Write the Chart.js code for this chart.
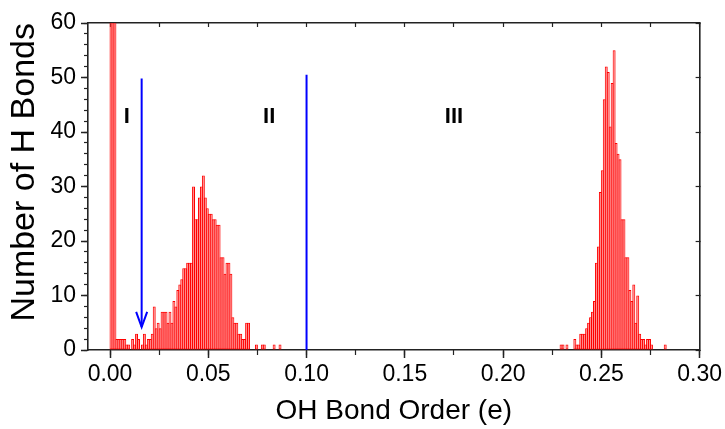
<!DOCTYPE html>
<html>
<head>
<meta charset="utf-8">
<script src="https://cdn.jsdelivr.net/npm/chart.js@4.4.1/dist/chart.umd.min.js"></script>
<style>
    html, body { margin: 0; padding: 0; background: #ffffff; }
    #wrap { width: 725px; height: 429px; position: relative; }
</style>
</head>
<body>
<div id="wrap"><canvas id="chart"></canvas></div>
<script>
// histogram bins of 0.001 e
const binWidth = 0.001;

// bins starting at 0.000 (first three bins run off the top of the axis)
const lowStartBin = 0;
const lowCounts = [
    120, 120, 120, 2, 2, 2, 2, 2, 1, 1,
    0, 2, 1, 3, 2, 0, 1, 3, 1, 2,
    2, 3, 8, 4, 5, 4, 7, 7, 7, 5,
    7, 5, 9, 8, 11, 12, 13, 15, 15, 16,
    16, 16, 30, 24, 24, 28, 30, 32, 28, 26,
    25, 25, 24, 24, 23, 23, 17, 17, 14, 16,
    16, 14, 6, 5, 5, 3, 3, 2, 2, 5,
    5, 0, 0, 0, 1, 0, 0, 1, 1, 0,
    0, 0, 0, 1, 0, 0, 1
];

// bins starting at 0.228
const highStartBin = 228;
const highCounts = [
    0, 1, 1, 0, 1, 0, 0, 0, 2, 1,
    1, 3, 3, 3, 4, 5, 6, 7, 9, 16,
    19, 29, 33, 46, 52, 51, 41, 49, 55, 38,
    36, 35, 24, 24, 17, 17, 11, 9, 12, 5,
    10, 3, 2, 2, 1, 2, 2, 1, 0, 0,
    0, 0, 0, 0, 1
];

const xMajorTicks = [0, 0.05, 0.10, 0.15, 0.20, 0.25, 0.30];
const xMinorTicks = [0, 0.025, 0.05, 0.075, 0.10, 0.125, 0.15, 0.175, 0.20, 0.225, 0.25, 0.275, 0.30];
const yMajorTicks = [0, 10, 20, 30, 40, 50, 60];
const yMinorTicks = [0, 2, 4, 6, 8, 10, 12, 14, 16, 18, 20, 22, 24, 26, 28, 30, 32, 34, 36, 38, 40, 42, 44, 46, 48, 50, 52, 54, 56, 58, 60];

// region markers
const regionLabels = ["I", "II", "III"];
const regionLabelX = [0.0085, 0.081, 0.175];
const regionLabelY = 42.7;
const dividerX = 0.10;
const dividerTop = 50.5;
const arrowX = 0.0161;
const arrowTop = 49.8;
const arrowTip = 4.2;
const arrowHalfWidth = 0.0028;
const arrowHeadHeight = 2.8;

const xMin = -0.0112;
const xMax = 0.30;

const tickFont = { family: "'Liberation Sans Narrow', 'Liberation Sans', Arial, sans-serif", size: 23 };
const titleFamily = "'Liberation Sans', Arial, sans-serif";
const frameColor = "#222222";

function toBars(startBin, counts) {
    return counts
        .map((count, i) => ({ x: (startBin + i + 0.5) * binWidth, y: count }))
        .filter(point => point.y > 0);
}

function fixedTicks(values) {
    return scale => {
        scale.ticks = values.map(value => ({ value }));
    };
}

const regionLabelPlugin = {
    id: "regionLabels",
    afterDatasetsDraw(chart) {
        const { ctx, scales } = chart;
        ctx.save();
        ctx.fillStyle = "#000000";
        ctx.font = "bold 22px 'Liberation Sans', Arial, sans-serif";
        ctx.textAlign = "center";
        ctx.textBaseline = "middle";
        regionLabels.forEach((text, i) => {
            ctx.fillText(text, scales.x.getPixelForValue(regionLabelX[i]), scales.y.getPixelForValue(regionLabelY));
        });
        ctx.restore();
    }
};

const hiddenAxis = {
    ticks: { display: false },
    border: { display: false },
    title: { display: false }
};

new Chart(document.getElementById("chart"), {
    type: "bar",
    data: {
        datasets: [
            {
                type: "line",
                data: [{ x: dividerX, y: 0 }, { x: dividerX, y: dividerTop }],
                borderColor: "#0000ff",
                borderWidth: 2,
                pointRadius: 0,
                order: 0
            },
            {
                type: "line",
                data: [{ x: arrowX, y: arrowTop }, { x: arrowX, y: arrowTip }],
                borderColor: "#0000ff",
                borderWidth: 2,
                pointRadius: 0,
                order: 0
            },
            {
                type: "line",
                data: [
                    { x: arrowX - arrowHalfWidth, y: arrowTip + arrowHeadHeight },
                    { x: arrowX, y: arrowTip },
                    { x: arrowX + arrowHalfWidth, y: arrowTip + arrowHeadHeight }
                ],
                borderColor: "#0000ff",
                borderWidth: 2,
                pointRadius: 0,
                order: 0
            },
            {
                type: "bar",
                data: toBars(lowStartBin, lowCounts).concat(toBars(highStartBin, highCounts)),
                backgroundColor: "rgba(255, 90, 90, 0.7)",
                borderColor: "#ff0000",
                borderWidth: 1,
                borderSkipped: false,
                barPercentage: 1.5,
                categoryPercentage: 1,
                order: 1
            }
        ]
    },
    options: {
        responsive: true,
        maintainAspectRatio: false,
        animation: false,
        devicePixelRatio: 1,
        layout: { padding: { left: 0, top: 23, right: 24, bottom: 0 } },
        plugins: {
            legend: { display: false },
            tooltip: { enabled: false }
        },
        scales: {
            x: {
                type: "linear",
                position: "bottom",
                min: xMin,
                max: xMax,
                offset: false,
                afterBuildTicks: fixedTicks(xMajorTicks),
                afterFit: scale => { scale.height = 79; },
                grid: { offset: false, drawOnChartArea: false, tickLength: 8, tickColor: frameColor, tickWidth: 1.5 },
                border: { color: frameColor, width: 1.6 },
                ticks: {
                    color: "#000000",
                    font: tickFont,
                    padding: 3,
                    maxRotation: 0,
                    autoSkip: false,
                    callback: value => Number(value).toFixed(2)
                },
                title: {
                    display: true,
                    text: "OH Bond Order (e)",
                    color: "#000000",
                    font: { family: titleFamily, size: 28 },
                    padding: { top: 0, bottom: 1 }
                }
            },
            xMinor: {
                type: "linear",
                position: "bottom",
                weight: -1,
                min: xMin,
                max: xMax,
                offset: false,
                afterBuildTicks: fixedTicks(xMinorTicks),
                afterFit: scale => { scale.height = 0; },
                grid: { offset: false, drawOnChartArea: false, tickLength: 5, tickColor: frameColor, tickWidth: 1.2 },
                ...hiddenAxis
            },
            xTop: {
                type: "linear",
                position: "top",
                min: xMin,
                max: xMax,
                offset: false,
                afterBuildTicks: fixedTicks(xMinorTicks),
                afterFit: scale => { scale.height = 0; },
                grid: { offset: false, drawOnChartArea: false, tickLength: -4, tickColor: frameColor, tickWidth: 1.2 },
                ticks: { display: false },
                border: { color: frameColor, width: 1.6 }
            },
            y: {
                type: "linear",
                position: "left",
                min: 0,
                max: 60,
                afterBuildTicks: fixedTicks(yMajorTicks),
                afterFit: scale => { scale.width = 88; },
                grid: { drawOnChartArea: false, tickLength: 7, tickColor: frameColor, tickWidth: 1.5 },
                border: { color: frameColor, width: 1.6 },
                ticks: { color: "#000000", font: tickFont, padding: 5 },
                title: {
                    display: true,
                    text: "Number of H Bonds",
                    color: "#000000",
                    align: "end",
                    font: { family: titleFamily, size: 34 },
                    padding: { top: 4, bottom: 0 }
                }
            },
            yMinor: {
                type: "linear",
                position: "left",
                weight: -1,
                min: 0,
                max: 60,
                afterBuildTicks: fixedTicks(yMinorTicks),
                afterFit: scale => { scale.width = 0; },
                grid: { drawOnChartArea: false, tickLength: 4, tickColor: frameColor, tickWidth: 1.2 },
                ...hiddenAxis
            },
            yRight: {
                type: "linear",
                position: "right",
                min: 0,
                max: 60,
                afterBuildTicks: fixedTicks(yMajorTicks),
                afterFit: scale => { scale.width = 0; },
                grid: { drawOnChartArea: false, tickLength: -4, tickColor: frameColor, tickWidth: 1.2 },
                ticks: { display: false },
                border: { color: frameColor, width: 1.6 }
            }
        }
    },
    plugins: [regionLabelPlugin]
});
</script>
</body>
</html>
